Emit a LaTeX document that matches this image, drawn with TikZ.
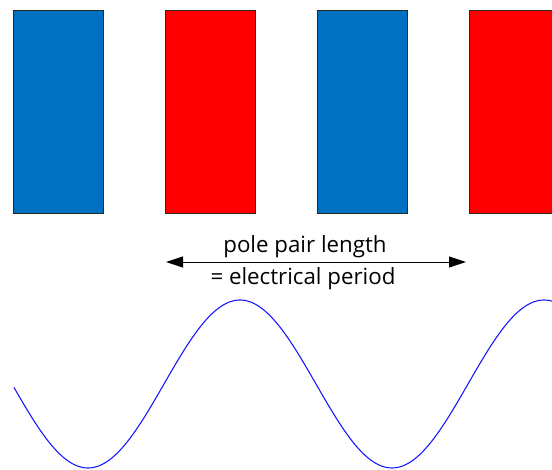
\documentclass[tikz,border=0pt]{standalone}
\usepackage{fontspec}
\setmainfont{Open Sans}
\usetikzlibrary{positioning,arrows.meta,calc}
\definecolor{poleBlue}{HTML}{0070C0}
\definecolor{poleRed}{HTML}{FF0000}
\definecolor{edgeGray}{HTML}{262626}
\definecolor{waveBlue}{HTML}{1A1AFF}

\begin{document}
\begin{tikzpicture}[x=1pt, y=-1pt,
      pole/.style={draw=edgeGray, line width=0.9pt, minimum width=90pt, minimum height=203pt, inner sep=0pt, anchor=north west},
      north/.style={pole, fill=poleBlue},
      south/.style={pole, fill=poleRed},
      lbl/.style={font=\fontsize{22.3}{26}\selectfont, inner sep=0pt, anchor=base}]
    \useasboundingbox (0,0) rectangle (552,470);
    \node[north] (p1) at (13,10) {};
    \node[south] (p2) at (165,10) {};
    \node[north] (p3) at (317,10) {};
    \node[south] (p4) at (469,10) {};
    \coordinate (al) at ($(p2.north west)+(1,252)$);
    \coordinate (ar) at ($(p4.north west)+(-3,252)$);
    \draw[{Triangle[length=17pt, width=11pt]}-{Triangle[length=17pt, width=11pt]}, line width=0.9pt] (al) -- (ar);
    \node[lbl] (len) at ($(al)!0.5!(ar)+(-11,-9)$) {pole pair length};
    \node[lbl] (per) at ($(al)!0.5!(ar)+(-13,23)$) {= electrical period};
    \draw[waveBlue, line width=1.1pt, domain=14:552, samples=200, smooth]
      plot (\x, {384 + 84*cos(1.1842*(\x-88))});
  \end{tikzpicture}
\end{document}
